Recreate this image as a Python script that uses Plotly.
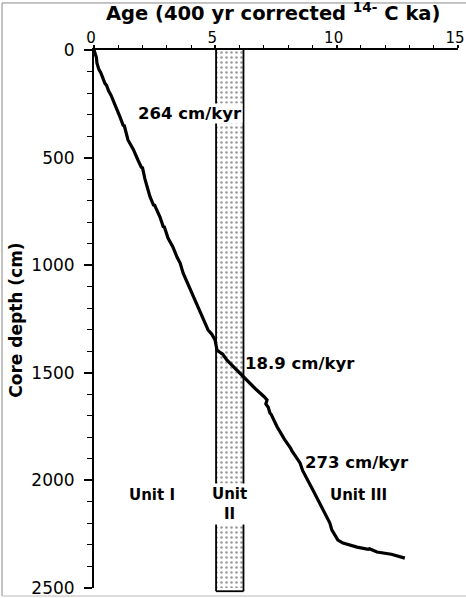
import plotly.graph_objects as go

# Age-depth curve (age in ka, depth in cm)
age = [0.00, 0.05, 0.10, 0.12, 0.20, 0.28, 0.35, 0.45, 0.52, 0.60, 0.70, 0.78, 0.90, 0.95,
       1.07, 1.20, 1.25, 1.40, 1.55, 1.62, 1.81, 1.95, 2.00, 2.10, 2.31, 2.45, 2.50, 2.72,
       2.85, 2.90, 3.05, 3.20, 3.25, 3.42, 3.55, 3.67, 3.80, 3.84, 4.04, 4.15, 4.20, 4.37,
       4.50, 4.55, 4.70, 4.85, 4.90, 4.99, 5.03, 5.07, 5.25, 5.30, 5.48, 5.80, 5.85, 6.14,
       6.60, 6.65, 7.00, 7.13, 7.08, 7.18, 7.25, 7.30, 7.50, 7.55, 7.79, 7.85, 8.10, 8.15,
       8.49, 8.55, 8.60, 9.02, 9.40, 9.72, 9.80, 10.05, 10.26, 10.50, 10.55, 10.84, 11.30,
       11.35, 11.66, 12.20, 12.25, 12.81]
depth = [0, 20, 35, 60, 90, 105, 130, 155, 165, 190, 210, 232, 265, 270,
         311, 350, 352, 418, 450, 462, 511, 545, 548, 600, 683, 720, 722, 776,
         820, 822, 874, 905, 915, 962, 990, 1036, 1070, 1085, 1129, 1160, 1172, 1218,
         1250, 1262, 1301, 1320, 1330, 1348, 1372, 1394, 1410, 1413, 1441, 1478, 1482, 1520,
         1570, 1574, 1610, 1626, 1645, 1660, 1687, 1693, 1740, 1752, 1798, 1810, 1850, 1862,
         1919, 1935, 1955, 2045, 2125, 2198, 2230, 2277, 2291, 2300, 2298, 2310, 2320,
         2318, 2333, 2345, 2343, 2361]

# Unit II band (age interval)
band_age = [5.03, 6.16]
band_depth = [0, 2500]

# Annotations: text, age, depth
rate_labels = ["264 cm/kyr", "18.9 cm/kyr", "273 cm/kyr"]
rate_age = [3.95, 8.50, 10.85]
rate_depth = [293, 1455, 1915]

unit_labels = ["Unit I", "Unit<br>II", "Unit III"]
unit_age = [2.40, 5.58, 10.88]
unit_depth = [2068, 2108, 2068]

x_ticks = [0, 5, 10, 15]
y_ticks = [0, 500, 1000, 1500, 2000, 2500]

fig = go.Figure()

# dotted band fill
fig.add_trace(go.Scatter(
    x=[band_age[0], band_age[1], band_age[1], band_age[0], band_age[0]],
    y=[band_depth[0], band_depth[0], band_depth[1], band_depth[1], band_depth[0]],
    mode="lines", fill="toself", line=dict(width=0, color="rgba(0,0,0,0)"),
    fillcolor="white",
    fillpattern=dict(shape=".", size=5, solidity=0.2, fgcolor="#333", bgcolor="white"),
    hoverinfo="skip", showlegend=False))

fig.add_trace(go.Scatter(
    x=age, y=depth, mode="lines",
    line=dict(color="black", width=3.2),
    showlegend=False))

# band outlines (extend slightly below axis end)
for a in band_age:
    fig.add_shape(type="line", xref="x", yref="paper", x0=a, x1=a, y0=1, y1=-0.006,
                  line=dict(color="black", width=1.8), layer="above")
fig.add_shape(type="line", xref="x", yref="paper", x0=band_age[0], x1=band_age[1],
              y0=-0.006, y1=-0.006, line=dict(color="black", width=1.8), layer="above")

bold = "DejaVu Sans"
for t, a, d in zip(rate_labels, rate_age, rate_depth):
    kw = dict(bgcolor="white") if t.startswith("264") else {}
    fig.add_annotation(x=a, y=d, text="<b>%s</b>" % t, showarrow=False,
                       font=dict(family=bold, size=16.5, color="black"), borderpad=0, **kw)
for t, a, d in zip(unit_labels, unit_age, unit_depth):
    kw = dict(bgcolor="white") if t == "Unit<br>II" else {}
    fig.add_annotation(x=a, y=d, text="<b>%s</b>" % t, showarrow=False,
                       font=dict(family=bold, size=15, color="black"), borderpad=1, **kw)

# Title (top) and y-axis title
fig.add_annotation(xref="paper", yref="paper", x=0.492, y=1.071, xanchor="center",
                   text="<b>Age (400 yr corrected <sup>14-</sup> C ka)</b>", showarrow=False,
                   font=dict(family=bold, size=19.5, color="black"), yanchor="middle")
fig.add_annotation(xref="paper", yref="paper", x=-0.214, y=0.497, textangle=-90,
                   xanchor="center", yanchor="middle",
                   text="<b>Core depth (cm)</b>", showarrow=False,
                   font=dict(family=bold, size=17, color="black"))

# outer frame (left, top, bottom)
frame = dict(color="#888", width=1)
fig.add_shape(type="line", xref="paper", yref="paper", x0=-0.2527, x1=-0.2527,
              y0=1.0874, y1=-0.0149, line=frame)
fig.add_shape(type="line", xref="paper", yref="paper", x0=-0.2527, x1=1.022,
              y0=1.0874, y1=1.0874, line=frame)
fig.add_shape(type="line", xref="paper", yref="paper", x0=-0.2527, x1=1.022,
              y0=-0.0149, y1=-0.0149, line=dict(color="#bbb", width=1))

fig.update_layout(
    width=466, height=598,
    margin=dict(l=94, r=8, t=50, b=10),
    paper_bgcolor="white", plot_bgcolor="white",
    font=dict(family="DejaVu Sans", size=16, color="black"),
    xaxis=dict(side="top", range=[0, 15], tickvals=x_ticks, ticktext=[str(v) for v in x_ticks],
               showline=True, linecolor="black", linewidth=2, ticks="outside", ticklen=3,
               tickwidth=1.5, tickcolor="black", showgrid=False, zeroline=False,
               minor=dict(dtick=1, ticklen=3, tickwidth=1, tickcolor="black", ticks="outside"),
               ticklabelstandoff=-4, ticklabelshift=-3, ticklabeloverflow="allow",
               automargin=False, tickfont=dict(size=15)),
    yaxis=dict(range=[2500, 0], tickvals=y_ticks, ticktext=[str(v) for v in y_ticks],
               showline=True, linecolor="black", linewidth=2, ticks="outside", ticklen=8,
               tickwidth=1.5, tickcolor="black", showgrid=False, zeroline=False,
               minor=dict(dtick=100, ticklen=5, tickwidth=1, tickcolor="black", ticks="outside"),
               ticklabelstandoff=6, ticklabeloverflow="allow", automargin=False,
               tickfont=dict(size=17)),
)

fig.write_html("out.html")
